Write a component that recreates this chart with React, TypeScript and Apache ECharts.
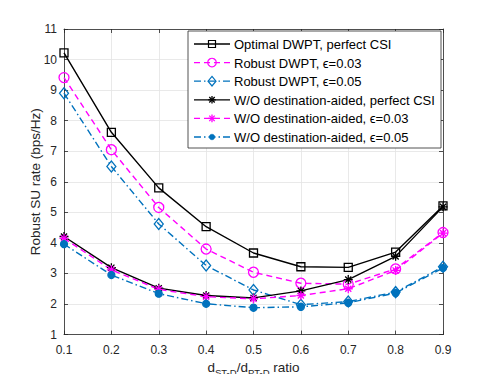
import React, { useEffect, useRef } from "react";
import * as echarts from "echarts";

const xValues = [0.1, 0.2, 0.3, 0.4, 0.5, 0.6, 0.7, 0.8, 0.9];
const optimalPerfect = [10.22, 7.62, 5.8, 4.53, 3.67, 3.22, 3.2, 3.7, 5.21];
const robust003 = [9.41, 7.05, 5.16, 3.8, 3.04, 2.68, 2.65, 3.15, 4.34];
const robust005 = [8.9, 6.5, 4.62, 3.26, 2.46, 1.98, 2.08, 2.39, 3.22];
const woPerfect = [4.21, 3.19, 2.52, 2.28, 2.2, 2.43, 2.8, 3.56, 5.18];
const wo003 = [4.15, 3.12, 2.48, 2.24, 2.17, 2.28, 2.5, 3.1, 4.32];
const wo005 = [3.96, 2.95, 2.34, 2.01, 1.88, 1.91, 2.04, 2.36, 3.18];

const seriesNames = [
  "Optimal DWPT, perfect CSI",
  "Robust DWPT, \u03f5=0.03",
  "Robust DWPT, \u03f5=0.05",
  "W/O destination-aided, perfect CSI",
  "W/O destination-aided, \u03f5=0.03",
  "W/O destination-aided, \u03f5=0.05",
];

const FONT = "'Liberation Sans', Arial, Helvetica, sans-serif";
const BLACK = "#000000";
const MAGENTA = "#FF00FF";
const BLUE = "#0072BD";
const STAR = "path://M5,0L5,10M0,5L10,5M1.6,1.6L8.4,8.4M8.4,1.6L1.6,8.4";
const DASH = [6, 4];
const DASHDOT = [7, 3, 1.5, 3];

type MarkerKind = "square" | "circle" | "diamond" | "star" | "dot";
const legendStyles: { color: string; dash: any; marker: MarkerKind }[] = [
  { color: BLACK, dash: null, marker: "square" },
  { color: MAGENTA, dash: DASH, marker: "circle" },
  { color: BLUE, dash: DASHDOT, marker: "diamond" },
  { color: BLACK, dash: null, marker: "star" },
  { color: MAGENTA, dash: DASH, marker: "star" },
  { color: BLUE, dash: DASHDOT, marker: "dot" },
];

function pairs(ys: number[]) {
  return xValues.map((x, i) => [x, ys[i]]);
}

function legendGraphic() {
  const left = 188;
  const top = 31;
  const width = 253;
  const height = 117;
  const rowH = 18.6;
  const firstY = 44;
  const lx0 = 194;
  const lx1 = 230;
  const mx = 212;
  const tx = 234;
  const Z = 50;
  const els: any[] = [
    {
      type: "rect",
      z: Z,
      shape: { x: left, y: top, width, height },
      style: { fill: "#ffffff", stroke: "#262626", lineWidth: 0.8 },
    },
  ];
  legendStyles.forEach((s, i) => {
    const y = firstY + i * rowH;
    els.push({
      type: "line",
      z: Z + 1,
      shape: { x1: lx0, y1: y, x2: lx1, y2: y },
      style: { stroke: s.color, lineWidth: 1.3, lineDash: s.dash || undefined },
    });
    const ms = { stroke: s.color, lineWidth: 1.2, fill: "#ffffff" };
    if (s.marker === "square") {
      els.push({ type: "rect", z: Z + 2, shape: { x: mx - 3.5, y: y - 3.5, width: 7, height: 7 }, style: { ...ms, fill: "none" } });
    } else if (s.marker === "circle") {
      els.push({ type: "circle", z: Z + 2, shape: { cx: mx, cy: y, r: 4.3 }, style: { ...ms, fill: "none" } });
    } else if (s.marker === "diamond") {
      els.push({
        type: "polygon",
        z: Z + 2,
        shape: { points: [[mx, y - 4.8], [mx + 4, y], [mx, y + 4.8], [mx - 4, y]] },
        style: { ...ms, fill: "none" },
      });
    } else if (s.marker === "dot") {
      els.push({ type: "circle", z: Z + 2, shape: { cx: mx, cy: y, r: 2.8 }, style: { fill: s.color, stroke: s.color, lineWidth: 0.5 } });
    } else {
      const r = 3.8;
      const d = r * 0.72;
      const segs = [
        [mx - r, y, mx + r, y],
        [mx, y - r, mx, y + r],
        [mx - d, y - d, mx + d, y + d],
        [mx - d, y + d, mx + d, y - d],
      ];
      segs.forEach((sg) =>
        els.push({
          type: "line",
          z: Z + 2,
          shape: { x1: sg[0], y1: sg[1], x2: sg[2], y2: sg[3] },
          style: { stroke: s.color, lineWidth: 1.3 },
        })
      );
    }
    els.push({
      type: "text",
      z: Z + 2,
      x: tx,
      y: y + 0.5,
      style: {
        text: seriesNames[i],
        fill: "#000000",
        font: `13px ${FONT}`,
        textVerticalAlign: "middle",
        verticalAlign: "middle",
      },
    });
  });
  return els;
}

export default function App() {
  const ref = useRef<HTMLDivElement>(null);
  useEffect(() => {
    if (!ref.current) return;
    const chart = echarts.init(ref.current, null, { renderer: "svg" });
    const mk = (
      name: string,
      ys: number[],
      color: string,
      type: any,
      symbol: string,
      size: any,
      filled: boolean
    ) => ({
      name,
      type: "line",
      data: pairs(ys),
      symbol,
      symbolSize: size,
      showAllSymbol: true,
      lineStyle: { color, width: 1.4, type },
      itemStyle: {
        color: filled ? color : "rgba(255,255,255,0)",
        borderColor: color,
        borderWidth: 1.3,
      },
      emphasis: { disabled: true },
    });
    const axisCommon = {
      axisLine: { show: true, onZero: false, lineStyle: { color: "#262626", width: 0.8 } },
      axisTick: { show: true, inside: true, length: 4, lineStyle: { color: "#262626", width: 0.8 } },
    };
    chart.setOption({
      animation: false,
      backgroundColor: "#ffffff",
      grid: { left: 64, right: 48, top: 29, bottom: 46 },
      xAxis: [
        {
          type: "value",
          min: 0.1,
          max: 0.9,
          interval: 0.1,
          ...axisCommon,
          axisLabel: {
            margin: 9,
            color: "#262626",
            fontFamily: FONT,
            fontSize: 12,
            formatter: (v: number) => v.toFixed(1),
          },
          splitLine: { show: true, lineStyle: { color: "#e3e3e3", width: 0.8 } },
          name: "d{sub|ST-D}/d{sub|PT-D} ratio",
          nameLocation: "middle",
          nameGap: 11,
          nameTextStyle: {
            fontFamily: FONT,
            fontSize: 13.5,
            color: "#262626",
            rich: {
              sub: { fontFamily: FONT, fontSize: 9.5, color: "#262626", padding: [9, 0, 0, 0] },
            },
          },
        },
        {
          type: "value",
          position: "top",
          min: 0.1,
          max: 0.9,
          interval: 0.1,
          ...axisCommon,
          axisLabel: { show: false },
          splitLine: { show: false },
        },
      ],
      yAxis: [
        {
          type: "value",
          min: 1,
          max: 11,
          interval: 1,
          ...axisCommon,
          axisLabel: { margin: 7, color: "#262626", fontFamily: FONT, fontSize: 12 },
          splitLine: { show: true, lineStyle: { color: "#e3e3e3", width: 0.8 } },
          name: "Robust SU rate (bps/Hz)",
          nameLocation: "middle",
          nameGap: 22,
          nameMoveOverlap: false,
          nameTextStyle: { fontFamily: FONT, fontSize: 13.5, color: "#262626" },
        },
        {
          type: "value",
          position: "right",
          min: 1,
          max: 11,
          interval: 1,
          ...axisCommon,
          axisLabel: { show: false },
          splitLine: { show: false },
        },
      ],
      graphic: legendGraphic(),
      series: [
        mk(seriesNames[0], optimalPerfect, BLACK, "solid", "rect", 8, false),
        mk(seriesNames[1], robust003, MAGENTA, DASH, "circle", 10, false),
        mk(seriesNames[2], robust005, BLUE, DASHDOT, "diamond", [9, 11], false),
        mk(seriesNames[3], woPerfect, BLACK, "solid", STAR, 9, true),
        mk(seriesNames[4], wo003, MAGENTA, DASH, STAR, 9, true),
        mk(seriesNames[5], wo005, BLUE, DASHDOT, "circle", 7, true),
      ],
    });
    return () => chart.dispose();
  }, []);
  return <div ref={ref} style={{ width: 491, height: 382, margin: -8 }} />;
}
